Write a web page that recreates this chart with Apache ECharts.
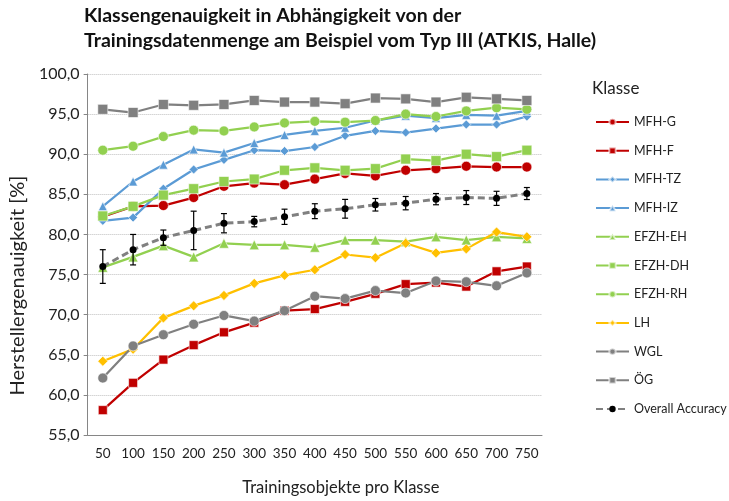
<!DOCTYPE html>
<html>
<head>
<meta charset="utf-8">
<script src="https://cdn.jsdelivr.net/npm/echarts@6/dist/echarts.min.js"></script>
<style>
  html, body { margin: 0; padding: 0; background: #fff; }
  #chart { width: 729px; height: 501px; }
</style>
</head>
<body>
<div id="chart"></div>
<script>
// Training objects per class
const categories = ['50','100','150','200','250','300','350','400','450','500','550','600','650','700','750'];

// Producer's accuracy per class [%]
const mfhG   = [82.2, 83.5, 83.6, 84.6, 86.0, 86.4, 86.2, 86.9, 87.6, 87.3, 88.0, 88.2, 88.5, 88.4, 88.4];
const mfhF   = [58.1, 61.5, 64.4, 66.2, 67.8, 69.0, 70.5, 70.7, 71.6, 72.6, 73.8, 74.0, 73.5, 75.4, 76.0];
const mfhTZ  = [81.7, 82.1, 85.7, 88.1, 89.3, 90.5, 90.4, 90.9, 92.3, 92.9, 92.7, 93.2, 93.7, 93.7, 94.7];
const mfhIZ  = [83.5, 86.6, 88.7, 90.6, 90.2, 91.4, 92.4, 92.9, 93.3, 94.2, 94.8, 94.5, 94.9, 94.8, 95.4];
const efzhEH = [75.9, 77.2, 78.6, 77.2, 78.9, 78.7, 78.7, 78.4, 79.3, 79.3, 79.1, 79.7, 79.3, 79.7, 79.5];
const efzhDH = [82.3, 83.5, 84.9, 85.7, 86.6, 86.9, 88.0, 88.3, 88.0, 88.2, 89.4, 89.2, 90.0, 89.7, 90.5];
const efzhRH = [90.5, 91.0, 92.2, 93.0, 92.9, 93.4, 93.9, 94.1, 94.0, 94.2, 95.0, 94.7, 95.4, 95.8, 95.6];
const lh     = [64.2, 65.7, 69.6, 71.1, 72.4, 73.9, 74.9, 75.6, 77.5, 77.1, 78.9, 77.7, 78.2, 80.3, 79.7];
const wgl    = [62.1, 66.1, 67.5, 68.8, 69.9, 69.2, 70.5, 72.3, 72.0, 73.0, 72.7, 74.2, 74.1, 73.6, 75.2];
const oeg    = [95.6, 95.2, 96.2, 96.1, 96.2, 96.7, 96.5, 96.5, 96.3, 97.0, 96.9, 96.5, 97.1, 96.9, 96.7];

// Overall accuracy with its spread (± value)
const overall    = [76.0, 78.1, 79.6, 80.5, 81.4, 81.6, 82.2, 82.9, 83.2, 83.7, 83.9, 84.4, 84.6, 84.5, 85.1];
const overallErr = [2.1, 1.9, 0.95, 2.4, 1.2, 0.65, 0.95, 0.93, 1.17, 0.78, 0.83, 0.7, 0.87, 0.88, 0.75];

// Y axis range
const yMin = 55, yMax = 100, yStep = 5;

const FONT = 'Lato';
const RED = '#C00000', BLUE = '#5B9BD5', GREEN = '#92D050', YELLOW = '#FFC000', GREY = '#808080';

function lineSeries(name, data, color, symbol, size) {
  return {
    name, type: 'line', data,
    symbol, symbolSize: size,
    lineStyle: { color, width: 2.25 },
    itemStyle: { color, borderColor: 'rgba(255,255,255,0.6)', borderWidth: 1 },
    emphasis: { disabled: true },
    animation: false
  };
}

const errorData = overall.map((v, i) => [i, v - overallErr[i], v + overallErr[i]]);

const chart = echarts.init(document.getElementById('chart'), null, { renderer: 'canvas' });
chart.setOption({
  backgroundColor: '#fff',
  animation: false,
  textStyle: { fontFamily: FONT },
  title: [{
    text: 'Klassengenauigkeit in Abhängigkeit von der\nTrainingsdatenmenge am Beispiel vom Typ III (ATKIS, Halle)',
    left: 79, top: -2,
    textStyle: { fontFamily: FONT, fontSize: 19.5, fontWeight: 'bold', color: '#111', lineHeight: 25 }
  }, {
    text: 'Klasse',
    left: 587, top: 75,
    textStyle: { fontFamily: FONT, fontSize: 17, fontWeight: 'normal', color: '#222' }
  }],
  legend: {
    orient: 'vertical',
    left: 590, top: 110,
    itemWidth: 33, itemHeight: 8, itemGap: 14.7,
    textStyle: { fontFamily: FONT, fontSize: 12.5, color: '#222', lineHeight: 14 },
    data: ['MFH-G','MFH-F','MFH-TZ','MFH-IZ','EFZH-EH','EFZH-DH','EFZH-RH','LH','WGL','ÖG','Overall Accuracy']
  },
  grid: { left: 81.5, right: 187, top: 74, bottom: 65 },
  xAxis: {
    type: 'category',
    data: categories,
    boundaryGap: true,
    name: 'Trainingsobjekte pro Klasse',
    nameLocation: 'middle',
    nameGap: 44,
    nameTextStyle: { fontFamily: FONT, fontSize: 16.5, color: '#222', padding: [0, 0, 0, 52] },
    axisLine: { lineStyle: { color: '#868686', width: 1 } },
    axisTick: { alignWithLabel: true, length: 5, lineStyle: { color: '#868686' } },
    axisLabel: { fontFamily: FONT, fontSize: 13.5, color: '#222', margin: 12, interval: 0 },
    splitLine: { show: false }
  },
  yAxis: {
    type: 'value',
    min: yMin, max: yMax, interval: yStep,
    name: 'Herstellergenauigkeit [%]',
    nameLocation: 'middle',
    nameGap: 54,
    nameRotate: 90,
    nameTextStyle: { fontFamily: FONT, fontSize: 20, color: '#222', padding: [0, 62, 0, 0] },
    axisLine: { show: true, lineStyle: { color: '#868686', width: 1 } },
    axisTick: { show: true, length: 4, lineStyle: { color: '#868686' } },
    axisLabel: {
      fontFamily: FONT, fontSize: 16, color: '#222', margin: 8,
      formatter: v => v.toFixed(1).replace('.', ',')
    },
    splitLine: { show: true, lineStyle: { color: '#BFBFBF', type: 'dotted', width: 1 } }
  },
  series: [
    lineSeries('MFH-G', mfhG, RED, 'circle', 10),
    lineSeries('MFH-F', mfhF, RED, 'rect', 9),
    lineSeries('MFH-TZ', mfhTZ, BLUE, 'diamond', 9),
    lineSeries('MFH-IZ', mfhIZ, BLUE, 'triangle', 9),
    lineSeries('EFZH-EH', efzhEH, GREEN, 'triangle', 10),
    lineSeries('EFZH-DH', efzhDH, GREEN, 'rect', 10),
    lineSeries('EFZH-RH', efzhRH, GREEN, 'circle', 10),
    lineSeries('LH', lh, YELLOW, 'diamond', 10),
    lineSeries('WGL', wgl, GREY, 'circle', 10),
    lineSeries('ÖG', oeg, GREY, 'rect', 10),
    {
      name: 'Overall Accuracy', type: 'line', data: overall,
      symbol: 'circle', symbolSize: 7,
      lineStyle: { color: GREY, width: 3, type: [7, 4] },
      itemStyle: { color: '#000' },
      emphasis: { disabled: true },
      animation: false, z: 3
    },
    {
      name: 'Overall Accuracy', type: 'custom',
      data: errorData,
      z: 4,
      animation: false,
      renderItem: function (params, api) {
        const i = api.value(0);
        const lo = api.coord([i, api.value(1)]);
        const hi = api.coord([i, api.value(2)]);
        const cap = 3;
        const style = { stroke: '#000', lineWidth: 1.2 };
        return {
          type: 'group',
          children: [
            { type: 'line', shape: { x1: lo[0], y1: lo[1], x2: hi[0], y2: hi[1] }, style },
            { type: 'line', shape: { x1: lo[0] - cap, y1: lo[1], x2: lo[0] + cap, y2: lo[1] }, style },
            { type: 'line', shape: { x1: hi[0] - cap, y1: hi[1], x2: hi[0] + cap, y2: hi[1] }, style }
          ]
        };
      }
    }
  ]
});
</script>
</body>
</html>
